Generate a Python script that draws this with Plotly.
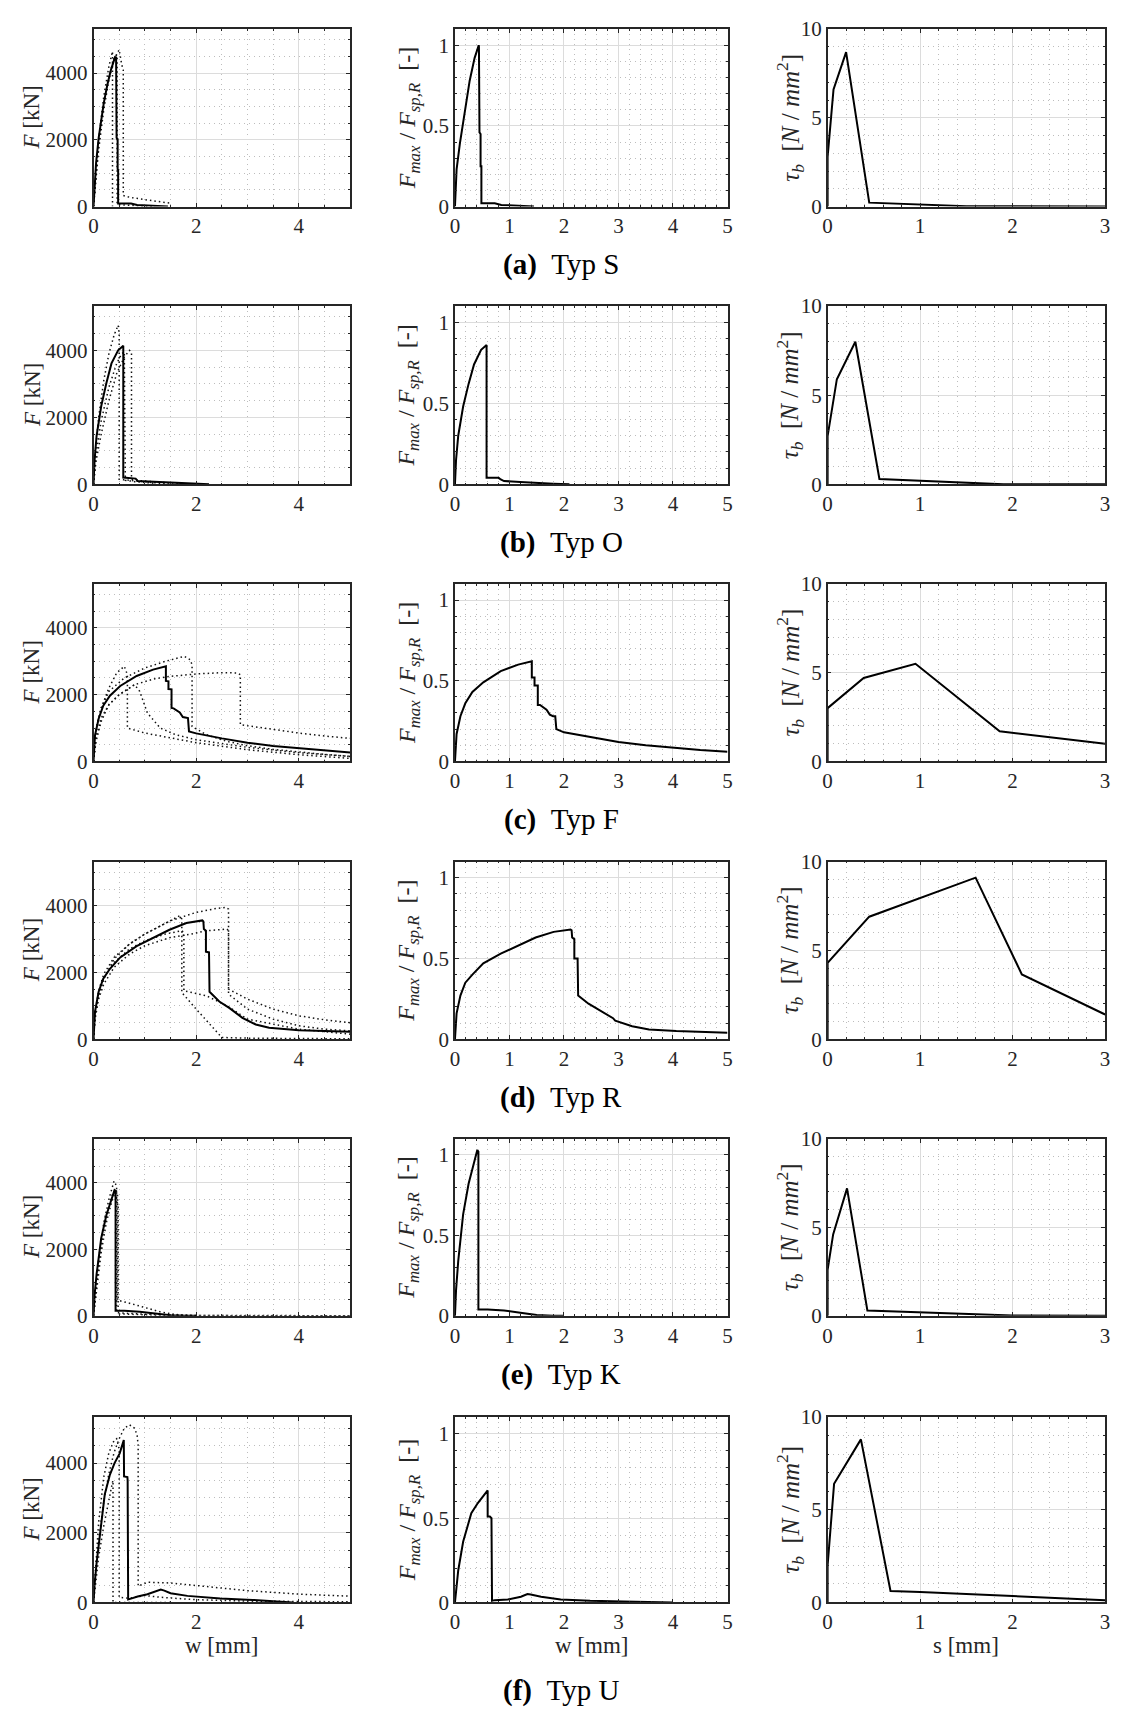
import plotly.graph_objects as go

# ------------------------------------------------------------------ data
captions = ["(a)", "(b)", "(c)", "(d)", "(e)", "(f)"]
type_names = ["Typ S", "Typ O", "Typ F", "Typ R", "Typ K", "Typ U"]

# --- Typ S
S_w = [0, 0.02, 0.05, 0.1, 0.15, 0.2, 0.27, 0.34, 0.42, 0.44, 0.45, 0.47, 0.47, 0.48, 0.48, 0.6, 0.73, 0.85, 1.0, 1.2, 1.45]
S_F = [0, 700, 1300, 2050, 2650, 3100, 3650, 4100, 4480, 4470, 2060, 2020, 1120, 1100, 90, 90, 90, 45, 35, 15, 0]
S_d1_w = [0, 0.05, 0.1, 0.2, 0.3, 0.37, 0.37]
S_d1_F = [0, 1100, 2000, 3300, 4200, 4650, 0]
S_d2_w = [0, 0.05, 0.1, 0.2, 0.3, 0.4, 0.5, 0.55, 0.58, 0.58, 0.7, 0.9, 1.2, 1.5]
S_d2_F = [0, 900, 1700, 2900, 3800, 4400, 4700, 4250, 4100, 330, 280, 230, 170, 100]
S_d3_w = [0, 0.05, 0.1, 0.2, 0.3, 0.4, 0.45, 0.46, 0.46, 0.8, 1.2]
S_d3_F = [0, 1000, 1900, 3100, 3900, 4450, 4550, 4500, 60, 30, 0]
Sn_w = [0, 0.03, 0.09, 0.18, 0.27, 0.36, 0.436, 0.44, 0.45, 0.47, 0.47, 0.485, 0.485, 0.6, 0.73, 0.85, 1.0, 1.2, 1.45]
Sn_v = [0, 0.23, 0.39, 0.6, 0.78, 0.92, 1.0, 0.99, 0.46, 0.45, 0.25, 0.25, 0.02, 0.02, 0.02, 0.01, 0.008, 0.004, 0]
S_s = [0, 0, 0.064, 0.2, 0.45, 1.0, 1.5, 3.0]
S_tau = [0, 2.8, 6.6, 8.7, 0.22, 0.12, 0.02, 0]

# --- Typ O
O_w = [0, 0.02, 0.06, 0.15, 0.25, 0.35, 0.48, 0.57, 0.58, 0.58, 0.8, 0.82, 0.86, 1.0, 1.2, 1.5, 1.8, 2.25]
O_F = [0, 700, 1450, 2330, 3020, 3610, 4000, 4150, 4140, 200, 190, 170, 100, 90, 70, 40, 20, 0]
O_d1_w = [0, 0.05, 0.1, 0.2, 0.3, 0.4, 0.48, 0.5, 0.5, 0.7, 1.0, 1.5]
O_d1_F = [0, 1200, 2000, 3100, 3900, 4450, 4750, 4500, 150, 120, 60, 0]
O_d2_w = [0, 0.05, 0.15, 0.3, 0.45, 0.6, 0.7, 0.74, 0.74, 0.9, 1.2, 1.6, 2.0]
O_d2_F = [0, 700, 1500, 2500, 3300, 3800, 4000, 3950, 150, 110, 70, 30, 0]
O_d3_w = [0, 0.05, 0.15, 0.3, 0.45, 0.55, 0.6, 0.61, 0.62, 0.8, 1.2]
O_d3_F = [0, 900, 1900, 2900, 3600, 3900, 3950, 2500, 120, 80, 30]
On_w = [0, 0.02, 0.06, 0.15, 0.25, 0.35, 0.48, 0.57, 0.58, 0.58, 0.8, 0.84, 0.9, 1.2, 1.5, 1.8, 2.1]
On_v = [0, 0.15, 0.3, 0.48, 0.62, 0.74, 0.83, 0.86, 0.86, 0.04, 0.04, 0.03, 0.02, 0.015, 0.008, 0.004, 0]
O_s = [0, 0, 0.1, 0.3, 0.56, 1.9, 3.0]
O_tau = [0, 2.7, 5.9, 8.0, 0.3, 0, 0]

# --- Typ F
F_w = [0, 0.01, 0.03, 0.1, 0.19, 0.32, 0.52, 0.84, 1.16, 1.41, 1.41, 1.46, 1.46, 1.52, 1.52, 1.56, 1.68, 1.74, 1.8, 1.84, 1.86, 2.0, 2.5, 3.0, 3.5, 4.0, 4.5, 5.0]
F_F = [0, 400, 790, 1280, 1670, 1970, 2260, 2560, 2750, 2850, 2410, 2400, 2170, 2160, 1600, 1590, 1470, 1330, 1300, 1300, 900, 840, 690, 560, 460, 390, 320, 270]
F_d1_w = [0, 0.05, 0.15, 0.3, 0.6, 1.0, 1.4, 1.77, 1.88, 1.92, 1.92, 2.2, 2.6, 3.0, 3.5, 4.0, 4.5, 5.0]
F_d1_F = [0, 1000, 1600, 2100, 2500, 2800, 3000, 3150, 3050, 2900, 1050, 800, 600, 470, 360, 280, 210, 150]
F_d2_w = [0, 0.05, 0.15, 0.3, 0.5, 0.8, 1.2, 1.5, 2.0, 2.5, 2.8, 2.86, 2.86, 3.5, 4.0, 4.5, 5.0]
F_d2_F = [0, 700, 1300, 1700, 2000, 2300, 2480, 2550, 2620, 2660, 2650, 2600, 1100, 950, 850, 760, 690]
F_d3_w = [0, 0.05, 0.15, 0.3, 0.45, 0.6, 0.66, 0.66, 1.0, 1.5, 2.0, 3.0, 4.0, 5.0]
F_d3_F = [0, 900, 1600, 2200, 2650, 2850, 2600, 1000, 850, 700, 560, 350, 200, 90]
F_d4_w = [0, 0.05, 0.15, 0.3, 0.5, 0.8, 0.9, 1.05, 1.3, 1.6, 2.0, 3.0, 4.0, 5.0]
F_d4_F = [0, 600, 1200, 1700, 2000, 2300, 2100, 1450, 1000, 800, 650, 420, 260, 150]
Fn_w = [0, 0.01, 0.03, 0.1, 0.19, 0.32, 0.52, 0.84, 1.16, 1.41, 1.41, 1.46, 1.46, 1.52, 1.52, 1.56, 1.68, 1.74, 1.8, 1.84, 1.86, 2.0, 2.5, 3.0, 3.5, 4.0, 4.5, 5.0]
Fn_v = [0, 0.087, 0.17, 0.28, 0.36, 0.43, 0.49, 0.56, 0.6, 0.62, 0.52, 0.52, 0.47, 0.47, 0.35, 0.35, 0.32, 0.29, 0.28, 0.28, 0.2, 0.18, 0.15, 0.12, 0.1, 0.085, 0.07, 0.06]
F_s = [0, 0, 0.39, 0.95, 1.86, 3.0]
F_tau = [0, 3.0, 4.7, 5.5, 1.7, 1.0]

# --- Typ R
R_w = [0, 0.01, 0.03, 0.1, 0.19, 0.32, 0.52, 0.84, 1.16, 1.48, 1.81, 2.12, 2.14, 2.15, 2.19, 2.19, 2.25, 2.26, 2.45, 2.65, 2.9, 3.16, 3.42, 4.0, 5.0]
R_F = [0, 450, 830, 1420, 1810, 2110, 2450, 2790, 3040, 3280, 3480, 3560, 3530, 3300, 3250, 2620, 2600, 1420, 1130, 930, 640, 440, 340, 265, 225]
R_d1_w = [0, 0.03, 0.1, 0.2, 0.4, 0.7, 1.0, 1.5, 2.0, 2.4, 2.58, 2.63, 2.63, 3.0, 3.5, 4.0, 4.5, 5.0]
R_d1_F = [0, 700, 1300, 1800, 2400, 2850, 3150, 3550, 3800, 3920, 3950, 3900, 1500, 1200, 900, 700, 580, 490]
R_d2_w = [0, 0.03, 0.1, 0.2, 0.4, 0.7, 1.0, 1.3, 1.55, 1.68, 1.72, 1.72, 2.0, 2.3, 2.5, 3.0, 4.0, 5.0]
R_d2_F = [0, 800, 1450, 1950, 2450, 2850, 3150, 3400, 3600, 3700, 3600, 1400, 900, 400, 50, 30, 20, 10]
R_d3_w = [0, 0.03, 0.1, 0.2, 0.4, 0.7, 1.0, 1.5, 1.9, 2.2, 2.6, 2.63, 2.63, 3.0, 3.5, 4.0, 4.5, 5.0]
R_d3_F = [0, 600, 1200, 1650, 2150, 2550, 2800, 3050, 3150, 3250, 3300, 3250, 1350, 900, 600, 400, 300, 250]
R_d4_w = [0, 0.03, 0.1, 0.2, 0.4, 0.7, 1.0, 1.4, 1.72, 1.76, 1.76, 2.2, 2.6, 3.0, 4.0, 5.0]
R_d4_F = [0, 700, 1350, 1850, 2300, 2700, 2950, 3150, 3250, 3200, 1450, 1300, 1000, 600, 300, 150]
Rn_w = [0, 0.01, 0.03, 0.1, 0.19, 0.32, 0.52, 0.84, 1.16, 1.48, 1.81, 2.12, 2.14, 2.15, 2.19, 2.19, 2.25, 2.26, 2.45, 2.7, 2.9, 2.94, 3.25, 3.56, 4.06, 5.0]
Rn_v = [0, 0.09, 0.16, 0.27, 0.35, 0.40, 0.47, 0.53, 0.58, 0.63, 0.665, 0.68, 0.675, 0.63, 0.62, 0.5, 0.5, 0.27, 0.22, 0.17, 0.13, 0.115, 0.08, 0.06, 0.05, 0.04]
R_s = [0, 0, 0.45, 1.6, 2.1, 3.0]
R_tau = [0, 4.3, 6.9, 9.1, 3.65, 1.39]

# --- Typ K
K_w = [0, 0.02, 0.06, 0.15, 0.25, 0.35, 0.41, 0.43, 0.43, 0.6, 0.75, 0.9, 1.2, 1.5, 1.8, 2.0]
K_F = [0, 600, 1250, 2330, 3020, 3510, 3780, 3760, 150, 150, 140, 120, 70, 20, 0, 0]
K_d1_w = [0, 0.05, 0.1, 0.2, 0.3, 0.4, 0.45, 0.45, 0.6, 1.0, 1.5, 2.0, 3.0, 5.0]
K_d1_F = [0, 900, 1700, 2800, 3500, 4050, 3900, 100, 80, 50, 20, 10, 5, 0]
K_d2_w = [0, 0.05, 0.1, 0.2, 0.3, 0.38, 0.44, 0.47, 0.47, 0.7, 1.0, 1.3, 1.6, 2.0]
K_d2_F = [0, 800, 1500, 2600, 3300, 3700, 3800, 3600, 470, 380, 250, 120, 40, 0]
K_d3_w = [0, 0.05, 0.15, 0.25, 0.35, 0.42, 0.48, 0.48, 0.8, 1.2, 2.0, 3.0, 5.0]
K_d3_F = [0, 700, 1900, 2800, 3400, 3700, 3300, 60, 40, 20, 10, 10, 5]
Kn_w = [0, 0.02, 0.06, 0.15, 0.25, 0.35, 0.41, 0.43, 0.43, 0.6, 0.75, 0.9, 1.2, 1.5, 1.8, 2.0]
Kn_v = [0, 0.16, 0.34, 0.63, 0.82, 0.96, 1.03, 1.02, 0.04, 0.04, 0.038, 0.033, 0.019, 0.005, 0, 0]
K_s = [0, 0, 0.06, 0.21, 0.43, 1.0, 2.0, 3.0]
K_tau = [0, 2.6, 4.6, 7.2, 0.3, 0.2, 0.02, 0]

# --- Typ U
U_w = [0, 0.02, 0.06, 0.15, 0.22, 0.32, 0.41, 0.51, 0.59, 0.595, 0.66, 0.665, 0.675, 0.73, 0.86, 1.05, 1.18, 1.31, 1.38, 1.5, 1.83, 2.47, 3.1, 3.5, 3.88]
U_F = [0, 500, 1130, 2350, 3110, 3670, 4000, 4280, 4660, 3620, 3600, 3500, 90, 110, 170, 235, 300, 370, 340, 265, 190, 115, 75, 35, 0]
U_d1_w = [0, 0.05, 0.1, 0.2, 0.3, 0.4, 0.5, 0.6, 0.7, 0.8, 0.85, 0.87, 0.87, 1.05, 1.5, 2.0, 3.0, 4.0, 5.0]
U_d1_F = [0, 1100, 1800, 2900, 3700, 4300, 4700, 5000, 5100, 5000, 4800, 4500, 470, 580, 560, 480, 340, 240, 180]
U_d2_w = [0, 0.05, 0.1, 0.2, 0.3, 0.4, 0.45, 0.5, 0.5, 0.7, 1.0, 1.3, 2.0, 3.0, 5.0]
U_d2_F = [0, 1300, 2300, 3600, 4300, 4650, 4700, 4400, 150, 120, 200, 150, 80, 40, 20]
U_d3_w = [0, 0.05, 0.1, 0.2, 0.3, 0.37, 0.38, 0.38, 0.6, 1.0, 1.5]
U_d3_F = [0, 700, 1300, 2200, 3000, 3450, 3500, 0, 0, 0, 0]
Un_w = [0, 0.02, 0.06, 0.15, 0.3, 0.42, 0.6, 0.6, 0.64, 0.67, 0.68, 0.73, 0.97, 1.21, 1.33, 1.39, 1.58, 1.94, 2.48, 3.09, 4.0]
Un_v = [0, 0.08, 0.19, 0.36, 0.53, 0.59, 0.665, 0.51, 0.51, 0.5, 0.01, 0.014, 0.018, 0.034, 0.05, 0.047, 0.034, 0.018, 0.01, 0.006, 0]
U_s = [0, 0, 0.07, 0.36, 0.68, 1.0, 2.0, 3.0]
U_tau = [0, 2.0, 6.4, 8.8, 0.62, 0.57, 0.35, 0.12]

# ------------------------------------------------------------------ panels
rows = [
    dict(solid=(S_w, S_F), dots=[(S_d1_w, S_d1_F), (S_d2_w, S_d2_F), (S_d3_w, S_d3_F)], norm=(Sn_w, Sn_v), tau=(S_s, S_tau)),
    dict(solid=(O_w, O_F), dots=[(O_d1_w, O_d1_F), (O_d2_w, O_d2_F), (O_d3_w, O_d3_F)], norm=(On_w, On_v), tau=(O_s, O_tau)),
    dict(solid=(F_w, F_F), dots=[(F_d1_w, F_d1_F), (F_d2_w, F_d2_F), (F_d3_w, F_d3_F), (F_d4_w, F_d4_F)], norm=(Fn_w, Fn_v), tau=(F_s, F_tau)),
    dict(solid=(R_w, R_F), dots=[(R_d1_w, R_d1_F), (R_d2_w, R_d2_F), (R_d3_w, R_d3_F), (R_d4_w, R_d4_F)], norm=(Rn_w, Rn_v), tau=(R_s, R_tau)),
    dict(solid=(K_w, K_F), dots=[(K_d1_w, K_d1_F), (K_d2_w, K_d2_F), (K_d3_w, K_d3_F)], norm=(Kn_w, Kn_v), tau=(K_s, K_tau)),
    dict(solid=(U_w, U_F), dots=[(U_d1_w, U_d1_F), (U_d2_w, U_d2_F), (U_d3_w, U_d3_F)], norm=(Un_w, Un_v), tau=(U_s, U_tau)),
]

W, H = 1122, 1720


def fx(p):
    return p / W


def fy(p):
    return 1 - p / H


FONT = "Liberation Serif"
INK = "#262626"
col_px = [(89.3, 348.3), (454.0, 729.0), (830.0, 1110.0)]
row_px = [(17.3, 197.3), (298.3, 479.0), (580.0, 760.0), (861.7, 1041.7), (1142.7, 1322.3), (1425.0, 1613.0)]
col_axes = [
    dict(xr=[0, 5], xd=2, xm=0.5, yr=[0, 5320], yd=2000, ym=500),
    dict(xr=[0, 5], xd=1, xm=0.2, yr=[0, 1.1], yd=0.5, ym=0.1),
    dict(xr=[0, 3], xd=1, xm=0.2, yr=[0, 10], yd=5, ym=1),
]
ytitles = [
    "<i>F</i> [kN]",
    "<i>F</i><sub><i>max</i></sub> / <i>F</i><sub><i>sp,R</i></sub>  [-]",
    "<i>τ</i><sub><i>b</i></sub>  [<i>N</i> / <i>mm</i><sup>2</sup>]",
]
ytitle_x = [27, 407, 792]
ytitle_size = [23, 24, 25]
xtitles = ["w [mm]", "w [mm]", "s [mm]"]
TICKFONT = dict(family=FONT, size=21, color=INK)


def axis_style(rng, dtick, mdtick, domain, anchor):
    return dict(
        domain=domain, anchor=anchor, range=rng, autorange=False,
        tickmode="linear", tick0=0, dtick=dtick,
        showline=True, linecolor=INK, linewidth=1.5, mirror="allticks",
        ticks="inside", ticklen=4, tickwidth=1, tickcolor=INK,
        showgrid=True, gridcolor="#dcdcdc", gridwidth=1, zeroline=False,
        showticklabels=True, tickfont=TICKFONT,
        minor=dict(dtick=mdtick, tick0=0, ticks="inside", ticklen=2, tickcolor=INK,
                   showgrid=True, gridcolor="#bdbdbd", griddash="1px,4px", gridwidth=1),
        fixedrange=True,
    )


fig = go.Figure()
layout = {}
annotations = []
n = 0
for r, rd in enumerate(rows):
    top, bot = row_px[r]
    ydom = [fy(bot), fy(top)]
    for c in range(3):
        n += 1
        xname = "x" if n == 1 else f"x{n}"
        yname = "y" if n == 1 else f"y{n}"
        left, right = col_px[c]
        ca = col_axes[c]
        layout["xaxis" if n == 1 else f"xaxis{n}"] = axis_style(ca["xr"], ca["xd"], ca["xm"], [fx(left), fx(right)], yname)
        layout["yaxis" if n == 1 else f"yaxis{n}"] = axis_style(ca["yr"], ca["yd"], ca["ym"], ydom, xname)
        if c == 0:
            for dx, dy in rd["dots"]:
                fig.add_trace(go.Scatter(x=dx, y=dy, mode="lines", xaxis=xname, yaxis=yname,
                                         line=dict(color="#111111", width=1.5, dash="1.5px,3px")))
            sx, sy = rd["solid"]
        elif c == 1:
            sx, sy = rd["norm"]
        else:
            sx, sy = rd["tau"]
        fig.add_trace(go.Scatter(x=sx, y=sy, mode="lines", xaxis=xname, yaxis=yname,
                                 line=dict(color="#000000", width=2)))
        annotations.append(dict(text=ytitles[c], x=fx(ytitle_x[c]), y=fy((top + bot) / 2),
                                xref="paper", yref="paper", showarrow=False, textangle=-90,
                                xanchor="center", yanchor="middle",
                                font=dict(family=FONT, size=ytitle_size[c], color=INK)))
        if r == 5:
            annotations.append(dict(text=xtitles[c], x=fx((left + right) / 2), y=fy(1657),
                                    xref="paper", yref="paper", showarrow=False,
                                    xanchor="center", yanchor="middle",
                                    font=dict(family=FONT, size=23, color=INK)))
    cap_y = 1702 if r == 5 else bot + 59
    annotations.append(dict(text=f"<b>{captions[r]}</b>\u00a0\u00a0{type_names[r]}", x=fx(561), y=fy(cap_y),
                            xref="paper", yref="paper", showarrow=False,
                            xanchor="center", yanchor="middle",
                            font=dict(family=FONT, size=29, color="#000000")))

fig.update_layout(**layout)
fig.update_layout(width=W, height=H, margin=dict(l=0, r=0, t=0, b=0, pad=0), autosize=False,
                  font=dict(family=FONT, size=21, color=INK),
                  paper_bgcolor="white", plot_bgcolor="white", showlegend=False,
                  annotations=annotations, hovermode=False)
fig.update_xaxes(tickfont=TICKFONT)
fig.update_yaxes(tickfont=TICKFONT)
fig.write_html("out.html")
